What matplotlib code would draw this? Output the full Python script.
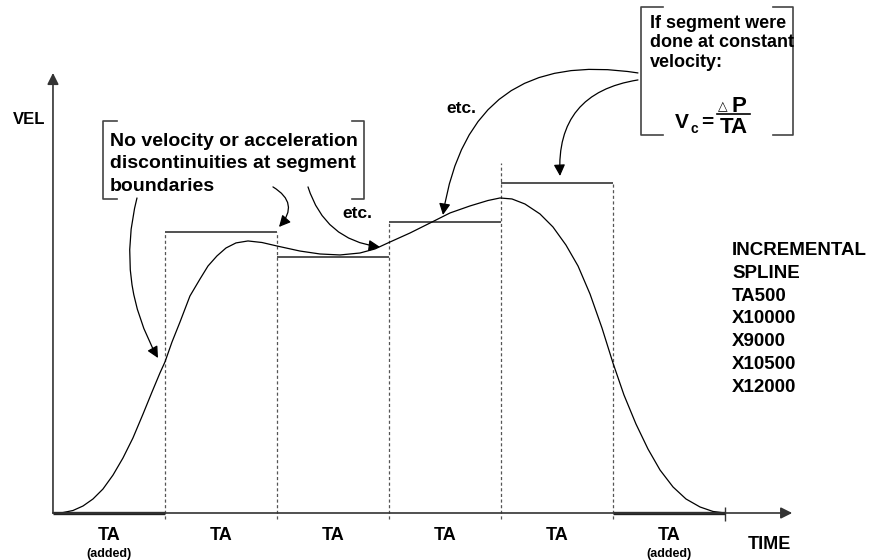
import matplotlib.pyplot as plt

plt.rcParams['font.family'] = ['Liberation Sans', 'DejaVu Sans']
plt.rcParams['font.weight'] = 'bold'

# time axis in units of TA (one segment each), velocity in counts per ms
seg_labels = ['TA', 'TA', 'TA', 'TA', 'TA', 'TA']
seg_added = [True, False, False, False, False, True]
seg_vel = [0, 20.1, 18.3, 20.8, 23.6, 0]        # constant-velocity level of each segment
edge_t = [1, 2, 3, 4, 5]
edge_top = [20.1, 20.1, 20.8, 25.0, 23.6]        # height of the dashed boundary lines

curve_t = [0.0, 0.089, 0.179, 0.268, 0.357, 0.446, 0.536, 0.625, 0.714, 0.804,
           0.884, 0.955, 1.0, 1.0625, 1.134, 1.223, 1.3125, 1.384, 1.464, 1.545,
           1.634, 1.741, 1.866, 2.0, 2.205, 2.384, 2.5625, 2.741, 2.875, 2.991,
           3.188, 3.366, 3.545, 3.723, 3.884, 3.991, 4.098, 4.214, 4.348, 4.464,
           4.580, 4.688, 4.795, 4.902, 5.0, 5.098, 5.205, 5.3125, 5.42, 5.536,
           5.652, 5.777, 5.893, 6.0]
curve_v = [0.0, 0.03, 0.18, 0.5, 1.0, 1.71, 2.71, 3.93, 5.36, 7.07,
           8.64, 10.0, 10.79, 12.21, 13.64, 15.5, 16.71, 17.64, 18.36, 18.93,
           19.29, 19.43, 19.32, 19.07, 18.71, 18.5, 18.43, 18.57, 18.86, 19.29,
           20.0, 20.71, 21.43, 21.93, 22.32, 22.5, 22.43, 22.07, 21.36, 20.43,
           19.14, 17.64, 15.64, 13.21, 10.71, 8.43, 6.36, 4.57, 3.07, 1.86,
           1.0, 0.43, 0.11, 0.0]

program = ['INCREMENTAL', 'SPLINE', 'TA500', 'X10000', 'X9000', 'X10500', 'X12000']

fig = plt.figure(figsize=(8.8, 5.6), dpi=100)
ax = fig.add_axes([0, 0, 1, 1])
ax.set_xlim(-0.473, 7.384)
ax.set_ylim(-3.357, 36.64)
ax.axis('off')

head = dict(arrowstyle='-|>', mutation_scale=17, color='black', lw=0.9,
            shrinkA=0, shrinkB=0)

# axes
axis_head = dict(head, color='#333333', lw=1.2)
ax.annotate('', xy=(6.6, 0), xytext=(0, 0), arrowprops=axis_head)
ax.annotate('', xy=(0, 31.43), xytext=(0, 0), arrowprops=axis_head)
ax.vlines(6, -0.6, 0.4, color='#333333', lw=1)

# segments
for i, v in enumerate(seg_vel):
    if seg_added[i]:
        ax.plot([i, i + 1], [0, 0], color='#222222', lw=2.4, solid_capstyle='butt')
    else:
        ax.hlines(v, i, i + 1, color='#222222', lw=1.1)
for t, top in zip(edge_t, edge_top):
    ax.vlines(t, -0.45, top, color='#555555', lw=0.9, linestyles=(0, (2.5, 2)))

ax.plot(curve_t, curve_v, color='black', lw=0.9)

# axis labels
for i, lab in enumerate(seg_labels):
    ax.text(i + 0.5, -1.93, lab, ha='center', va='baseline', fontsize=13)
    if seg_added[i]:
        ax.text(i + 0.5, -3.14, '(added)', ha='center', va='baseline', fontsize=9)
ax.text(6.4, -2.57, 'TIME', ha='center', va='baseline', fontsize=13)
ax.text(-0.357, 27.79, 'VEL', ha='left', va='baseline', fontsize=12)

for k, line in enumerate(program):
    ax.text(6.0625, 18.43 - 1.63 * k, line, ha='left', va='baseline', fontsize=13.5)

# bracket with note about boundaries
bk = dict(color='#444444', lw=1.2)
ax.plot([0.571, 0.446, 0.446, 0.571], [28.0, 28.0, 22.43, 22.43], **bk)
ax.plot([2.670, 2.777, 2.777, 2.670], [28.0, 28.0, 22.43, 22.43], **bk)
note = ['No velocity or acceleration', 'discontinuities at segment', 'boundaries']
for k, line in enumerate(note):
    ax.text(0.509, 26.24 - 1.62 * k, line, ha='left', va='baseline', fontsize=14)

# box with constant-velocity formula
ax.plot([5.446, 5.25, 5.25, 5.446], [36.14, 36.14, 27.0, 27.0], **bk)
ax.plot([6.429, 6.607, 6.607, 6.429], [36.14, 36.14, 27.0, 27.0], **bk)
box = ['If segment were', 'done at constant', 'velocity:']
for k, line in enumerate(box):
    ax.text(5.33, 34.62 - 1.37 * k, line, ha='left', va='baseline', fontsize=13)
ax.text(5.554, 27.5, 'V', ha='left', va='baseline', fontsize=15)
ax.text(5.696, 27.14, 'c', ha='left', va='baseline', fontsize=10)
ax.text(5.786, 27.5, '=', ha='left', va='baseline', fontsize=15)
ax.plot([5.929, 6.223], [28.5, 28.5], color='black', lw=1.2)
ax.text(5.9375, 28.79, '△', ha='left', va='baseline', fontsize=9, fontweight='normal',
        family=['DejaVu Sans'])
ax.text(6.0625, 28.64, 'P', ha='left', va='baseline', fontsize=16)
ax.text(6.08, 27.14, 'TA', ha='center', va='baseline', fontsize=16)

ax.text(2.714, 21.07, 'etc.', ha='center', va='baseline', fontsize=12.5)
ax.text(3.643, 28.57, 'etc.', ha='center', va='baseline', fontsize=12.5)

# pointer arrows: (tip, tail, curvature)
arrows = [((0.9375, 11.07), (0.75, 22.5), 0.2),
          ((2.018, 20.43), (1.964, 23.29), -0.6),
          ((2.92, 19.0), (2.277, 23.29), 0.32),
          ((3.482, 21.29), (5.223, 31.43), 0.5),
          ((4.527, 24.07), (5.223, 30.93), 0.45)]
for tip, tail, rad in arrows:
    ax.annotate('', xy=tip, xytext=tail,
                arrowprops=dict(head, connectionstyle='arc3,rad=%s' % rad))

plt.savefig('out.png', dpi=100)
print('finished!')
